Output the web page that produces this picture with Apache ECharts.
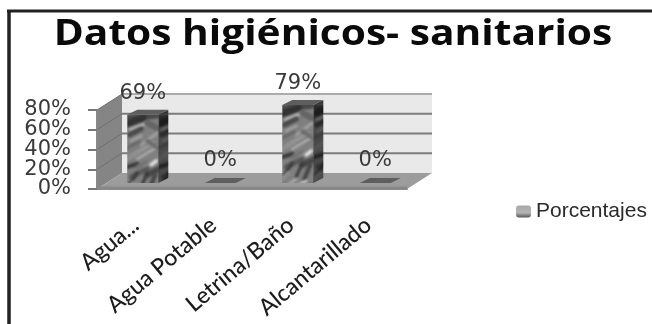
<!DOCTYPE html>
<html><head><meta charset="utf-8">
<style>html,body{margin:0;padding:0;background:#fff}#c{width:652px;height:324px;filter:blur(0.55px)}</style>
<script src="https://cdn.jsdelivr.net/npm/echarts@6/dist/echarts.min.js"></script>
</head><body><div id="c"></div>
<script>
const categories = ['Agua...', 'Agua Potable', 'Letrina/Baño', 'Alcantarillado'];
const porcentajes = [69, 0, 79, 0];
const yTicks = [0, 20, 40, 60, 80];
const titleText = 'Datos higiénicos- sanitarios';
const seriesName = 'Porcentajes';

const DX = 25, DY = 16;       // 3D depth of the plot box
const BX = 10, BY = 5;        // 3D depth of a bar
const BAR_W = 31;
const Y_LABEL_GAP = 26;

function stoneTexture() {
  const c = document.createElement('canvas');
  c.width = 32; c.height = 84;
  const g = c.getContext('2d');
  g.fillStyle = '#808080'; g.fillRect(0, 0, 32, 84);
  g.filter = 'blur(1.3px)';
  g.lineCap = 'round';
  const streaks = [
    [0,4,30,0,7,'#4a4a4a'],[0,9,16,3,7,'#333'],[3,15,18,9,2.5,'#bcbcbc'],[2,20,14,14,5,'#4a4a4a'],
    [20,8,32,14,6,'#646464'],[4,26,14,21,3,'#a0a0a0'],[14,30,30,18,3,'#a0a0a0'],[0,33,12,27,3,'#686868'],
    [6,40,26,28,4,'#969696'],[10,44,30,32,2.5,'#b0b0b0'],[20,26,32,34,4,'#6c6c6c'],[0,44,10,38,4,'#909090'],
    [0,52,10,49,4,'#3c3c3c'],[10,52,20,47,3,'#707070'],[18,52,30,44,3,'#8c8c8c'],[24,50,29,46,3.5,'#e6e6e6'],
    [4,62,20,54,5,'#585858'],[20,60,32,54,6,'#484848'],[2,70,10,58,3,'#3a3a3a'],[14,72,20,58,3,'#3a3a3a'],
    [22,74,28,60,4,'#444'],[0,74,6,68,4,'#8e8e8e'],[6,80,14,74,3,'#a8a8a8'],[16,80,24,76,3,'#c8c8c8'],
    [0,82,32,80,3,'#585858']
  ];
  streaks.forEach(function (s) {
    g.strokeStyle = s[5]; g.lineWidth = s[4];
    g.beginPath(); g.moveTo(s[0], s[1]); g.lineTo(s[2], s[3]); g.stroke();
  });
  return c;
}
const stone = { image: stoneTexture(), repeat: 'repeat' };

function poly(points, fill, z) {
  return { type: 'polygon', z2: z || 0, shape: { points: points }, style: { fill: fill, stroke: null } };
}
function seg(a, b, stroke, w, z) {
  return { type: 'line', z2: z || 1, shape: { x1: a[0], y1: a[1], x2: b[0], y2: b[1] }, style: { stroke: stroke, lineWidth: w } };
}

function renderBox(params, api) {
  const s = params.coordSys;
  const L = s.x, R = s.x + s.width, B = s.y + s.height, T = s.y;
  const kids = [
    poly([[L + DX, T - DY], [R + DX, T - DY], [R + DX, B - DY], [L + DX, B - DY]], '#e9e9e9'),
    poly([[L, T], [L + DX, T - DY], [L + DX, B - DY], [L, B]], '#858585'),
    poly([[L, B], [L + DX, B - DY], [R + DX, B - DY], [R, B]], '#9c9c9c')
  ];
  yTicks.forEach(function (t) {
    const y = api.coord([0, t])[1];
    // ECharts drops axis labels this tightly packed, so the tick labels are placed from the same scale.
    kids.push({
      type: 'text', z2: 5, x: L - Y_LABEL_GAP, y: y,
      style: { text: t + '%', font: '21px "DejaVu Sans"', fill: '#3a3a3a', align: 'right', verticalAlign: 'middle' }
    });
    if (t === 0) return;
    const col = t === yTicks[yTicks.length - 1] ? '#ababab' : '#7c7c7c';
    kids.push(seg([L + DX, y - DY], [R + DX, y - DY], col, 2));
    kids.push(seg([L, y], [L + DX, y - DY], '#6f6f6f', 1));
  });
  kids.push(seg([L, B - 1], [R, B - 1], '#888', 3, 2));
  return { type: 'group', children: kids };
}

function renderBar(params, api) {
  const v = api.value(1);
  const zero = api.coord([api.value(0), 0]);
  const top = api.coord([api.value(0), v]);
  const h = zero[1] - top[1];
  const x0 = zero[0] + 7 - BAR_W / 2;
  const y0 = zero[1] - 6 - h;
  const kids = [];
  if (h > 0) {
    kids.push(poly([[0, 0], [BAR_W, 0], [BAR_W, h], [0, h]], stone, 1));
    kids.push(poly([[BAR_W, 0], [BAR_W + BX, -BY], [BAR_W + BX, h - BY], [BAR_W, h]], stone, 1));
    kids.push(poly([[BAR_W, 0], [BAR_W + BX, -BY], [BAR_W + BX, h - BY], [BAR_W, h]], 'rgba(0,0,0,0.42)', 2));
  }
  kids.push(poly([[0, 0], [BX, -BY], [BAR_W + BX, -BY], [BAR_W, 0]], '#5e5e5e', 3));
  kids.push({
    type: 'text', z2: 5,
    x: BAR_W / 2, y: -BY - (h > 0 ? 16 : 17),
    style: { text: v + '%', font: '21px "DejaVu Sans"', fill: '#3a3a3a', align: 'center', verticalAlign: 'middle' }
  });
  return { type: 'group', x: x0, y: y0, children: kids };
}

const chart = echarts.init(document.getElementById('c'), null, { renderer: 'canvas' });
chart.setOption({
  animation: false,
  backgroundColor: '#fff',
  legend: {
    data: [{
      name: seriesName,
      itemStyle: { color: { type: 'linear', x: 0, y: 0, x2: 0, y2: 1, colorStops: [
        { offset: 0, color: '#a8a8a8' }, { offset: 0.6, color: '#b4b4b4' }, { offset: 1, color: '#555' }
      ] } }
    }],
    left: 511, top: 196, itemWidth: 15, itemHeight: 12, itemGap: 6,
    textStyle: { fontFamily: '"Liberation Sans"', fontSize: 21, color: '#2a2a2a' }
  },
  grid: { left: 97, right: 245, top: 110, bottom: 135 },
  xAxis: {
    type: 'category', data: categories, z: 6,
    axisLine: { lineStyle: { color: '#888', width: 2 } },
    axisTick: { length: 6, lineStyle: { color: '#777', width: 2 } },
    axisLabel: {
      interval: 0, rotate: 40, margin: 33, hideOverlap: false,
      fontFamily: 'Lato', fontWeight: 500, fontSize: 23, color: '#1c1c1c'
    }
  },
  yAxis: {
    type: 'value', min: 0, max: 80, interval: 20, z: 6,
    splitLine: { show: false },
    axisLine: { show: true, lineStyle: { color: '#888', width: 2 } },
    axisTick: { show: true, length: 9, lineStyle: { color: '#777', width: 2 } },
    axisLabel: { show: false }
  },
  series: [
    { type: 'custom', name: 'box', z: 1, silent: true, clip: false, renderItem: renderBox, data: [[0, 0]], encode: { x: 0, y: 1 } },
    {
      type: 'custom', name: seriesName, z: 3, clip: false, renderItem: renderBar,
      itemStyle: { color: stone },
      data: porcentajes.map(function (v, i) { return [i, v]; }), encode: { x: 0, y: 1 }
    }
  ],
  graphic: [
    { type: 'line', shape: { x1: 7, y1: 11, x2: 652, y2: 11 }, style: { stroke: '#222', lineWidth: 3 } },
    { type: 'line', shape: { x1: 9, y1: 10, x2: 9, y2: 324 }, style: { stroke: '#222', lineWidth: 3.5 } },
    {
      type: 'text', x: 333, y: 35, scaleX: 1.13,
      style: { text: titleText, font: 'bold 36px "Open Sans"', fill: '#0a0a0a', align: 'center', verticalAlign: 'middle' }
    }
  ]
});
</script></body></html>
